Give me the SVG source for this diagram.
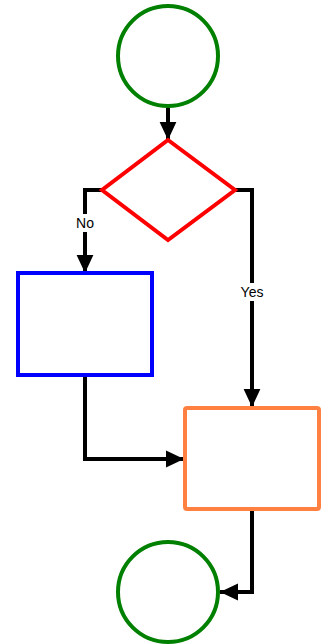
<svg xmlns="http://www.w3.org/2000/svg" width="327" height="644" viewBox="0 0 327 644">
<style>
.edge{fill:none;stroke:#000;stroke-width:4;stroke-linejoin:miter}
.lbl{font-family:"Liberation Sans",Arial,sans-serif;font-size:14px;fill:#000;text-anchor:middle}
.lblbg{fill:#fff}
</style>
<defs>
<marker id="ah" markerWidth="5" markerHeight="5" refX="4.5" refY="2.5" orient="auto" markerUnits="strokeWidth">
<path d="M0,0.4 L4.5,2.5 L0,4.6 Z" fill="#000"/>
</marker>
</defs>
<rect width="327" height="644" fill="#fff"/>
<g id="connectors">
<path class="edge" d="M168,106 V140" marker-end="url(#ah)"/>
<path class="edge" d="M102,190 H85 V273" marker-end="url(#ah)"/>
<path class="edge" d="M235,190 H252 V407" marker-end="url(#ah)"/>
<path class="edge" d="M85,375 V459 H184" marker-end="url(#ah)"/>
<path class="edge" d="M252,509 V592 H220" marker-end="url(#ah)"/>
<rect class="lblbg" x="74" y="214" width="22" height="18"/>
<text class="lbl" x="85" y="228">No</text>
<rect class="lblbg" x="239" y="283" width="26" height="18"/>
<text class="lbl" x="252" y="297">Yes</text>
</g>
<g id="start"><circle cx="168" cy="56" r="50" fill="#fff" stroke="#008000" stroke-width="4"/></g>
<g id="decision"><polygon points="168,140 235,190 168,240 102,190" fill="#fff" stroke="#ff0000" stroke-width="4"/></g>
<g id="process-no"><rect x="18" y="273" width="134" height="102" fill="#fff" stroke="#0000ff" stroke-width="4"/></g>
<g id="process-merge"><rect x="185" y="408" width="134" height="101" rx="2" fill="#fff" stroke="#ff8040" stroke-width="4"/></g>
<g id="end"><circle cx="168" cy="592" r="50" fill="#fff" stroke="#008000" stroke-width="4"/></g>
</svg>
